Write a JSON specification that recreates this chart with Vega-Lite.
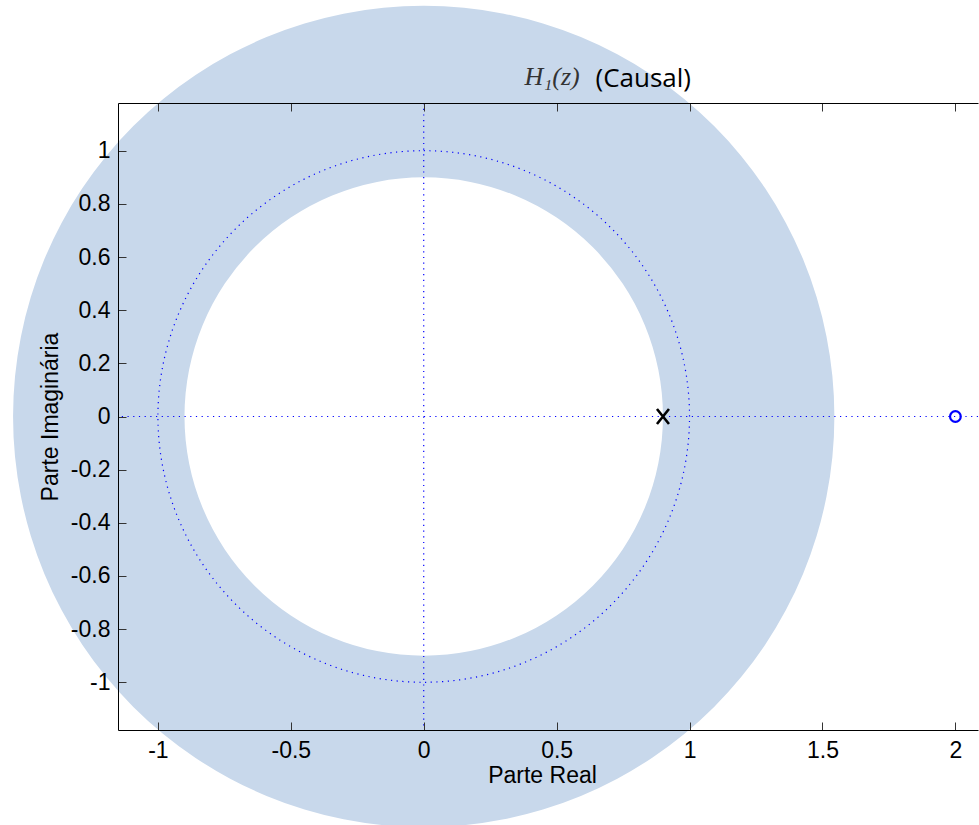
{
  "$schema": "https://vega.github.io/schema/vega-lite/v6.json",
  "width": 860,
  "height": 627,
  "autosize": {"type": "none"},
  "padding": {"left": 118, "top": 103, "right": 1, "bottom": 95},
  "background": "white",
  "config": {
    "view": {"stroke": null},
    "axis": {
      "grid": false,
      "domainColor": "#000000",
      "domainWidth": 1,
      "tickColor": "#333333",
      "tickWidth": 1,
      "tickSize": -8,
      "labelPadding": 17,
      "labelFont": "Liberation Sans",
      "labelFontSize": 23,
      "labelColor": "#000000",
      "labelFlush": false,
      "labelOverlap": false,
      "titleFont": "Liberation Sans",
      "titleFontSize": 23,
      "titleFontWeight": "normal",
      "titleColor": "#000000"
    }
  },
  "datasets": {
    "roc": [{"region": "ROC |z| > 0.9", "inner": 0.9, "outer": 1.545}],
    "unit": [{"r": 1}],
    "pz": [
      {"kind": "pole", "re": 0.9, "im": 0},
      {"kind": "zero", "re": 2, "im": 0}
    ],
    "labels": [{"label": "H₁(z)"}]
  },
  "resolve": {"axis": {"x": "independent", "y": "independent"}},
  "layer": [
    {
      "data": {"name": "roc"},
      "mark": {"type": "arc", "fill": "#C8D8EB", "stroke": null, "theta": 0, "theta2": 6.2832},
      "encoding": {
        "x": {
          "datum": 0, "type": "quantitative",
          "scale": {"domain": [-1.15, 2.085], "nice": false, "zero": false},
          "axis": {
            "orient": "top",
            "zindex": 2,
            "values": [-1, -0.5, 0, 0.5, 1, 1.5, 2],
            "labels": false,
            "title": "(Causal)",
            "titleX": 477,
            "titleY": -16.8,
            "titleAlign": "left",
            "titleBaseline": "alphabetic",
            "titleFont": "Open Sans",
            "titleFontSize": 26,
            "titleFontWeight": "normal",
            "titleColor": "#000000"
          }
        },
        "y": {
          "datum": 0, "type": "quantitative",
          "scale": {"domain": [-1.18, 1.18], "nice": false, "zero": false},
          "axis": null
        },
        "radius": {
          "field": "outer", "type": "quantitative",
          "scale": {"type": "linear", "domain": [0, 1], "range": [0, 265.8], "nice": false}
        },
        "radius2": {"field": "inner"}
      }
    },
    {
      "data": {"name": "unit"},
      "mark": {"type": "arc", "filled": false, "fill": null, "stroke": "#0000FF", "strokeWidth": 1.2, "strokeDash": [1.2, 4.5], "theta": 0, "theta2": 6.2832},
      "encoding": {
        "x": {"datum": 0, "type": "quantitative", "scale": {"domain": [-1.15, 2.085], "nice": false, "zero": false}, "axis": null},
        "y": {"datum": 0, "type": "quantitative", "scale": {"domain": [-1.18, 1.18], "nice": false, "zero": false}, "axis": null},
        "radius": {
          "field": "r", "type": "quantitative",
          "scale": {"type": "linear", "domain": [0, 1], "range": [0, 265.8], "nice": false}
        }
      }
    },
    {
      "data": {"values": [{}]},
      "mark": {"type": "rule", "stroke": "#0000FF", "strokeWidth": 1.2, "strokeDash": [1.2, 4.5]},
      "encoding": {
        "y": {"datum": 0, "type": "quantitative", "scale": {"domain": [-1.18, 1.18], "nice": false, "zero": false}, "axis": null}
      }
    },
    {
      "data": {"values": [{}]},
      "mark": {"type": "rule", "stroke": "#0000FF", "strokeWidth": 1.2, "strokeDash": [1.2, 4.5]},
      "encoding": {
        "x": {"datum": 0, "type": "quantitative", "scale": {"domain": [-1.15, 2.085], "nice": false, "zero": false}, "axis": null}
      }
    },
    {
      "data": {"name": "pz"},
      "transform": [{"filter": "datum.kind == 'pole'"}],
      "mark": {"type": "point", "shape": "M-0.8,-1L0.8,1M0.8,-1L-0.8,1", "filled": false, "stroke": "#000000", "strokeWidth": 2.6, "size": 225, "opacity": 1},
      "encoding": {
        "x": {
          "field": "re", "type": "quantitative",
          "scale": {"domain": [-1.15, 2.085], "nice": false, "zero": false},
          "axis": {
            "orient": "bottom",
            "zindex": 2,
            "values": [-1, -0.5, 0, 0.5, 1, 1.5, 2],
            "labelExpr": "'' + datum.value",
            "title": "Parte Real",
            "titleX": 424,
            "titleY": 52,
            "titleAlign": "center",
            "titleBaseline": "alphabetic"
          }
        },
        "y": {
          "field": "im", "type": "quantitative",
          "scale": {"domain": [-1.18, 1.18], "nice": false, "zero": false},
          "axis": {
            "orient": "left",
            "zindex": 2,
            "values": [-1, -0.8, -0.6, -0.4, -0.2, 0, 0.2, 0.4, 0.6, 0.8, 1],
            "labelExpr": "'' + datum.value",
            "labelPadding": 16,
            "title": "Parte Imaginária",
            "titleX": -68,
            "titleY": 313.5,
            "titleAngle": 270,
            "titleAlign": "center",
            "titleBaseline": "middle"
          }
        }
      }
    },
    {
      "data": {"name": "pz"},
      "transform": [{"filter": "datum.kind == 'zero'"}],
      "mark": {"type": "point", "shape": "circle", "filled": false, "stroke": "#0000FF", "strokeWidth": 2.2, "size": 115, "opacity": 1},
      "encoding": {
        "x": {"field": "re", "type": "quantitative", "scale": {"domain": [-1.15, 2.085], "nice": false, "zero": false}, "axis": null},
        "y": {"field": "im", "type": "quantitative", "scale": {"domain": [-1.18, 1.18], "nice": false, "zero": false}, "axis": null}
      }
    },
    {
      "data": {"name": "labels"},
      "mark": {"type": "text", "font": "Liberation Serif", "fontStyle": "italic", "fontSize": 26, "color": "#333333", "align": "left", "baseline": "alphabetic"},
      "encoding": {
        "x": {"datum": 0.379, "type": "quantitative", "scale": {"domain": [-1.15, 2.085], "nice": false, "zero": false}, "axis": null},
        "y": {"datum": 1.247, "type": "quantitative", "scale": {"domain": [-1.18, 1.18], "nice": false, "zero": false}, "axis": null},
        "text": {"field": "label"}
      }
    }
  ]
}
